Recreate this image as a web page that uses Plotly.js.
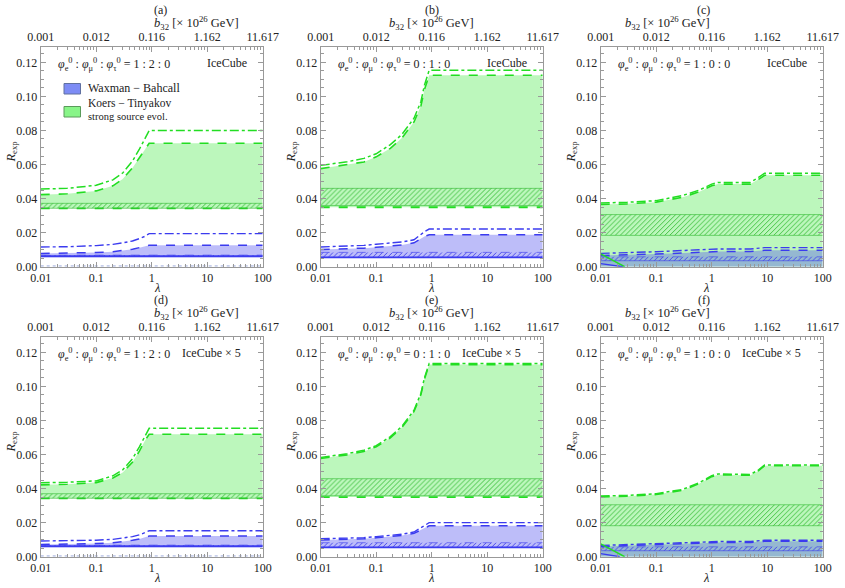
<!DOCTYPE html>
<html><head><meta charset="utf-8">
<script src="https://cdn.plot.ly/plotly-3.0.1.min.js"></script>
<style>html,body{margin:0;padding:0;background:#fff}#plot{width:845px;height:588px}</style>
</head><body><div id="plot"></div>
<script>
// ---------- data ----------
const panelLabels = ['(a)','(b)','(c)','(d)','(e)','(f)'];
const ratioLabels = ['1 : 2 : 0','0 : 1 : 0','1 : 0 : 0','1 : 2 : 0','0 : 1 : 0','1 : 0 : 0'];
const expLabels = ['IceCube','IceCube','IceCube','IceCube × 5','IceCube × 5','IceCube × 5'];
const bottomTickVals = [0.01, 0.1, 1, 10, 100];
const bottomTickText = ['0.01','0.1','1','10','100'];
const topTickText = ['0.001','0.012','0.116','1.162','11.617'];
const yTickVals = [0, 0.02, 0.04, 0.06, 0.08, 0.10, 0.12];
const lamSpan = [0.01, 100];

// panel (a)
const lamA = [0.01, 0.03, 0.1, 0.2, 0.3, 0.45, 0.6, 0.75, 0.9, 100];
const aKTdash = [0.0423, 0.0428, 0.0445, 0.0475, 0.0515, 0.058, 0.064, 0.069, 0.0725, 0.0725];
const aKTdot  = [0.0456, 0.046, 0.0478, 0.051, 0.055, 0.062, 0.069, 0.0755, 0.0799, 0.0799];
const aWBdash = [0.0078, 0.0079, 0.0083, 0.0088, 0.0094, 0.0103, 0.0112, 0.012, 0.0126, 0.0126];
const aWBdot  = [0.0116, 0.0117, 0.0124, 0.0131, 0.0140, 0.0151, 0.0165, 0.0178, 0.0194, 0.0194];
const aKTlow = 0.0343, aKThatch = [0.0343, 0.0372], aWBlow = 0.0062, aWBhatch = [0.0057, 0.0068], aFloor = 0.0004;

// panel (b)
const lamB = [0.01, 0.03, 0.06, 0.1, 0.18, 0.29, 0.48, 0.64, 0.74, 0.9, 100];
const bKTdot  = [0.0595, 0.0616, 0.0636, 0.0663, 0.0717, 0.0776, 0.0872, 0.097, 0.1066, 0.1153, 0.1153];
const bKTdash = [0.0576, 0.0598, 0.0615, 0.0645, 0.0695, 0.0755, 0.085, 0.0945, 0.104, 0.1124, 0.1124];
const bWBdot  = [0.0116, 0.0121, 0.0125, 0.0132, 0.0138, 0.0145, 0.0158, 0.019, 0.0205, 0.0221, 0.0221];
const bWBdash = [0.0101, 0.0105, 0.0109, 0.0114, 0.012, 0.0127, 0.014, 0.0165, 0.0178, 0.0188, 0.0188];
const bKTlow = 0.0349, bKThatch = [0.0359, 0.046], bWBlow = 0.0055, bWBhatch = [0.0055, 0.0084];

// panel (c)
const lamC = [0.01, 0.03, 0.1, 0.3, 0.6, 1, 1.3, 5, 7, 9, 100];
const cKTdot  = [0.0374, 0.0378, 0.0388, 0.0418, 0.045, 0.0485, 0.0495, 0.0495, 0.0525, 0.0549, 0.0549];
const cKTdash = [0.0365, 0.0369, 0.0379, 0.0408, 0.044, 0.0475, 0.0485, 0.0485, 0.0513, 0.0537, 0.0537];
const cWBdot  = [0.0078, 0.0082, 0.0088, 0.0095, 0.0099, 0.0103, 0.0104, 0.0104, 0.0108, 0.0112, 0.0112];
const cWBdash = [0.0066, 0.0069, 0.0074, 0.008, 0.0085, 0.0088, 0.0089, 0.0089, 0.0093, 0.0097, 0.0097];
const cKTlow = 0, cKThatch = [0.0184, 0.0306], cWBlow = 0, cWBhatch = [0.0035, 0.0058];
const cKTedgeLam = [0.01, 0.027], cKTedge = [0.0075, 0];
const cWBedgeLam = [0.01, 0.025], cWBedge = [0.0018, 0];

// panel (d)
const lamD = [0.01, 0.03, 0.1, 0.2, 0.3, 0.45, 0.6, 0.75, 0.9, 100];
const dKTdot  = [0.0434, 0.0437, 0.0445, 0.0475, 0.051, 0.0575, 0.0645, 0.071, 0.0754, 0.0754];
const dKTdash = [0.0422, 0.0425, 0.0435, 0.0462, 0.0495, 0.0555, 0.062, 0.068, 0.0719, 0.0719];
const dWBdot  = [0.0092, 0.0093, 0.0097, 0.0102, 0.0108, 0.0118, 0.0128, 0.014, 0.0152, 0.0152];
const dWBdash = [0.0072, 0.0073, 0.0077, 0.0082, 0.0088, 0.0096, 0.0104, 0.0113, 0.0121, 0.0121];
const dKTlow = 0.0343, dKThatch = [0.0343, 0.037], dWBlow = 0.0062, dWBhatch = [0.0057, 0.0068], dFloor = 0.0004;

// panel (e)
const lamE = [0.01, 0.03, 0.06, 0.1, 0.18, 0.29, 0.48, 0.64, 0.74, 0.9, 100];
const eKTdot  = [0.0583, 0.0605, 0.0625, 0.0652, 0.0705, 0.0765, 0.086, 0.096, 0.105, 0.1135, 0.1135];
const eKTdash = [0.0577, 0.0598, 0.0618, 0.0645, 0.0698, 0.0758, 0.0853, 0.0952, 0.1042, 0.1128, 0.1128];
const eWBdot  = [0.0105, 0.0108, 0.0112, 0.0118, 0.0124, 0.0132, 0.0145, 0.0172, 0.0186, 0.02, 0.02];
const eWBdash = [0.0098, 0.0101, 0.0105, 0.0111, 0.0117, 0.0125, 0.0137, 0.0158, 0.0171, 0.0181, 0.0181];
const eKTlow = 0.035, eKThatch = [0.0358, 0.0458], eWBlow = 0.0055, eWBhatch = [0.0055, 0.0082];

// panel (f)
const lamF = [0.01, 0.03, 0.1, 0.3, 0.6, 1, 1.3, 5, 7, 9, 100];
const fKTdot  = [0.0356, 0.036, 0.037, 0.0395, 0.0435, 0.0475, 0.0486, 0.0483, 0.051, 0.0539, 0.0539];
const fKTdash = [0.0351, 0.0355, 0.0365, 0.039, 0.043, 0.047, 0.0481, 0.0478, 0.0505, 0.0534, 0.0534];
const fWBdot  = [0.0066, 0.007, 0.0075, 0.008, 0.0085, 0.0088, 0.0089, 0.0089, 0.0093, 0.0097, 0.0097];
const fWBdash = [0.006, 0.0064, 0.0069, 0.0074, 0.0079, 0.0082, 0.0083, 0.0083, 0.0087, 0.0091, 0.0091];
const fKTlow = 0, fKThatch = [0.0182, 0.0305], fWBlow = 0, fWBhatch = [0.0035, 0.0058];
const fKTedgeLam = [0.01, 0.027], fKTedge = [0.0075, 0];
const fWBedgeLam = [0.01, 0.022], fWBedge = [0.0018, 0];

const panels = [
  {lam: lamA, ktDash: aKTdash, ktDot: aKTdot, wbDash: aWBdash, wbDot: aWBdot, ktLow: aKTlow, ktHatch: aKThatch, wbLow: aWBlow, wbHatch: aWBhatch, floor: aFloor},
  {lam: lamB, ktDash: bKTdash, ktDot: bKTdot, wbDash: bWBdash, wbDot: bWBdot, ktLow: bKTlow, ktHatch: bKThatch, wbLow: bWBlow, wbHatch: bWBhatch},
  {lam: lamC, ktDash: cKTdash, ktDot: cKTdot, wbDash: cWBdash, wbDot: cWBdot, ktLow: cKTlow, ktHatch: cKThatch, wbLow: cWBlow, wbHatch: cWBhatch, ktEdge: [cKTedgeLam, cKTedge], wbEdge: [cWBedgeLam, cWBedge]},
  {lam: lamD, ktDash: dKTdash, ktDot: dKTdot, wbDash: dWBdash, wbDot: dWBdot, ktLow: dKTlow, ktHatch: dKThatch, wbLow: dWBlow, wbHatch: dWBhatch, floor: dFloor},
  {lam: lamE, ktDash: eKTdash, ktDot: eKTdot, wbDash: eWBdash, wbDot: eWBdot, ktLow: eKTlow, ktHatch: eKThatch, wbLow: eWBlow, wbHatch: eWBhatch},
  {lam: lamF, ktDash: fKTdash, ktDot: fKTdot, wbDash: fWBdash, wbDot: fWBdot, ktLow: fKTlow, ktHatch: fKThatch, wbLow: fWBlow, wbHatch: fWBhatch, ktEdge: [fKTedgeLam, fKTedge], wbEdge: [fWBedgeLam, fWBedge]}
];

// ---------- styles ----------
const FONT = '"Liberation Serif", "Times New Roman", Times, serif';
const GREEN = '#22dd22', GREEN_D = '#33bb33', BLUE = '#3b3bef';
const GFILL = 'rgba(80,235,80,0.38)', BFILL = 'rgba(90,90,240,0.40)';
const FRAME = '#999999';
const W = 845, H = 588;
const px = v => v / W, py = v => 1 - v / H;
const colPx = [[40.7, 262.7], [320.7, 542.7], [600.7, 822.7]];
const rowPx = [[47, 266.7], [337, 556.7]];

const traces = [];
const layout = {
  width: W, height: H, margin: {l: 0, r: 0, t: 0, b: 0},
  paper_bgcolor: '#fff', plot_bgcolor: 'rgba(0,0,0,0)', showlegend: false,
  font: {family: FONT, size: 11, color: '#222'},
  annotations: [], shapes: []
};

panels.forEach((p, i) => {
  const col = i % 3, row = Math.floor(i / 3);
  const xb = 2 * i + 1, xt = 2 * i + 2, yi = i + 1;
  const xa = xb === 1 ? 'x' : 'x' + xb, ya = yi === 1 ? 'y' : 'y' + yi;
  const add = (x, y, o) => traces.push(Object.assign({x, y, xaxis: xa, yaxis: ya, type: 'scatter', mode: 'lines', hoverinfo: 'skip', showlegend: false}, o));

  // Koers-Tinyakov band
  add(lamSpan, [p.ktLow, p.ktLow], {line: p.ktLow > 0 ? {color: GREEN, width: 1.8, dash: 'dash'} : {width: 0}});
  add(p.lam, p.ktDash, {fill: 'tonexty', fillcolor: GFILL, line: {color: GREEN, width: 1.6, dash: 'dash'}});
  add(lamSpan, [p.ktHatch[0], p.ktHatch[0]], {line: {color: GREEN_D, width: 0.6}});
  add(lamSpan, [p.ktHatch[1], p.ktHatch[1]], {fill: 'tonexty', fillcolor: 'rgba(0,0,0,0)',
      fillpattern: {shape: '/', size: 3.5, solidity: 0.25, fgcolor: GREEN_D, bgcolor: 'rgba(0,0,0,0)'},
      line: {color: GREEN_D, width: 0.6}});
  add(p.lam, p.ktDot, {line: {color: GREEN, width: 1.5, dash: 'dashdot'}});
  // Waxman-Bahcall band
  add(lamSpan, [p.wbLow, p.wbLow], {line: p.wbLow > 0 ? {color: BLUE, width: 1.6} : {width: 0}});
  add(p.lam, p.wbDash, {fill: 'tonexty', fillcolor: BFILL, line: {color: BLUE, width: 1.5, dash: 'dash'}});
  add(lamSpan, [p.wbHatch[0], p.wbHatch[0]], {line: {color: BLUE, width: 0.6}});
  add(lamSpan, [p.wbHatch[1], p.wbHatch[1]], {fill: 'tonexty', fillcolor: 'rgba(0,0,0,0)',
      fillpattern: {shape: '/', size: 3.5, solidity: 0.25, fgcolor: BLUE, bgcolor: 'rgba(0,0,0,0)'},
      line: {color: BLUE, width: 0.6, dash: 'dash'}});
  add(p.lam, p.wbDot, {line: {color: BLUE, width: 1.4, dash: 'dashdot'}});
  if (p.floor !== undefined) add(lamSpan, [p.floor, p.floor], {line: {color: '#8f9fd8', width: 1.2, dash: 'dot'}});
  if (p.ktEdge) add(p.ktEdge[0], p.ktEdge[1], {line: {color: GREEN, width: 1.5}});
  if (p.wbEdge) add(p.wbEdge[0], p.wbEdge[1], {line: {color: BLUE, width: 1.5}});
  // dummy trace so that the top axis is drawn
  traces.push({x: lamSpan, y: [0, 0], xaxis: 'x' + xt, yaxis: ya, type: 'scatter', mode: 'lines', line: {width: 0}, hoverinfo: 'skip', showlegend: false});

  const dom = [px(colPx[col][0]), px(colPx[col][1])];
  const ydom = [py(rowPx[row][1]), py(rowPx[row][0])];
  const common = {type: 'log', range: [-2, 2], showgrid: false, zeroline: false, showline: true, linecolor: FRAME, linewidth: 1,
    ticks: 'inside', ticklen: 5, tickcolor: FRAME, tickvals: bottomTickVals,
    minor: {ticks: 'inside', ticklen: 3, tickcolor: FRAME, dtick: 'D1'},
    tickfont: {family: FONT, size: 12, color: '#222'}};
  layout['xaxis' + (xb === 1 ? '' : xb)] = Object.assign({}, common, {domain: dom, anchor: ya, ticktext: bottomTickText, side: 'bottom'});
  layout['xaxis' + xt] = Object.assign({}, common, {overlaying: xa, anchor: ya, ticktext: topTickText, side: 'top'});
  layout['yaxis' + (yi === 1 ? '' : yi)] = {domain: ydom, anchor: xa, range: [0, 0.129], showgrid: false, zeroline: false,
    showline: true, linecolor: FRAME, linewidth: 1, mirror: 'ticks', ticks: 'inside', ticklen: 5, tickcolor: FRAME,
    tickvals: yTickVals, tickformat: '.2f', tickfont: {family: FONT, size: 12, color: '#222'},
    minor: {ticks: 'inside', ticklen: 3, tickcolor: FRAME, dtick: 0.005}};

  const cx = (colPx[col][0] + colPx[col][1]) / 2;
  const top = rowPx[row][0], bot = rowPx[row][1];
  const A = (text, x, y, o) => layout.annotations.push(Object.assign({text, x: px(x), y: py(y), xref: 'paper', yref: 'paper', showarrow: false, font: {family: FONT, size: 12, color: '#222'}}, o));
  A(panelLabels[i], cx, top - 37, {yanchor: 'middle'});
  A('<i>b</i><sub>32</sub> [× 10<sup>26</sup> GeV]', cx, top - 24, {yanchor: 'middle', font: {family: FONT, size: 12.5, color: '#222'}});
  A('<i>λ</i>', cx, bot + 21, {yanchor: 'middle', font: {family: FONT, size: 12.5, color: '#222'}});
  A('<i>R</i><sub>exp</sub>', colPx[col][0] - 29, (top + bot) / 2 - 5, {textangle: -90, xanchor: 'center', yanchor: 'middle', font: {family: FONT, size: 12.5, color: '#222'}});
  A('<i>φ</i><sub>e</sub><sup>0</sup> : <i>φ</i><sub>μ</sub><sup>0</sup> : <i>φ</i><sub>τ</sub><sup>0</sup> = ' + ratioLabels[i],
    colPx[col][0] + 15, top + 18, {xanchor: 'left', yanchor: 'middle', font: {family: FONT, size: 12, color: '#222'}});
  const rightPad = row === 0 ? 14 : 20;
  A(expLabels[i], colPx[col][1] - rightPad, top + 16, {xanchor: 'right', yanchor: 'middle'});
});

// legend in panel (a)
const legendItems = [
  {label: 'Waxman − Bahcall', fill: '#7d8cf5', border: '#6070a0', y: 83.5, ty: 88, size: 12},
  {label: 'Koers − Tinyakov', fill: '#88f588', border: '#5a9a5a', y: 106.5, ty: 104, size: 11.5}
];
legendItems.forEach(it => {
  layout.shapes.push({type: 'rect', xref: 'paper', yref: 'paper', x0: px(64), x1: px(80.5), y0: py(it.y + 10.5), y1: py(it.y),
    fillcolor: it.fill, line: {color: it.border, width: 1}});
  layout.annotations.push({text: it.label, x: px(86), y: py(it.ty), xref: 'paper', yref: 'paper', xanchor: 'left', yanchor: 'middle',
    showarrow: false, font: {family: FONT, size: it.size, color: '#222'}});
});
layout.annotations.push({text: 'strong source evol.', x: px(86), y: py(116.5), xref: 'paper', yref: 'paper', xanchor: 'left', yanchor: 'middle',
  showarrow: false, font: {family: FONT, size: 10.5, color: '#222'}});

Plotly.newPlot('plot', traces, layout, {staticPlot: true, displayModeBar: false});
</script></body></html>
